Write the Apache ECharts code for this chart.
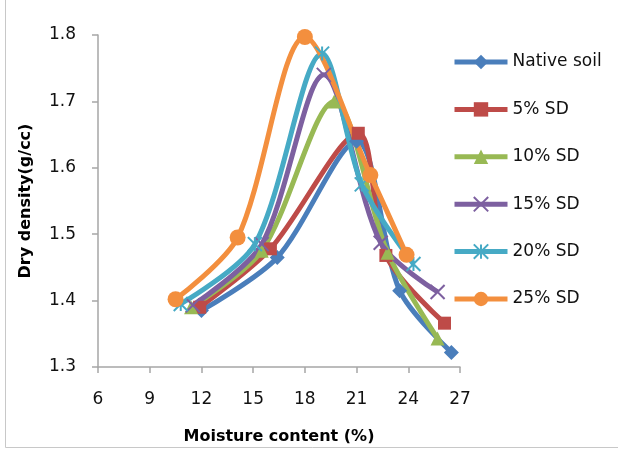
<!DOCTYPE html>
<html>
<head>
<meta charset="utf-8">
<script src="https://cdn.jsdelivr.net/npm/echarts@6/dist/echarts.min.js"></script>
<style>html,body{margin:0;padding:0;background:#fff;}#c{width:618px;height:450px;}</style>
</head>
<body>
<div id="c"></div>
<script>
var seriesNames = ['Native soil', '5% SD', '10% SD', '15% SD', '20% SD', '25% SD'];
var nativeSoil = [[12.0, 1.385], [16.4, 1.465], [21.0, 1.640], [23.5, 1.415], [26.5, 1.322]];
var sd5 = [[11.9, 1.390], [16.0, 1.478], [21.1, 1.652], [22.7, 1.468], [26.1, 1.366]];
var sd10 = [[11.4, 1.390], [15.5, 1.475], [19.7, 1.700], [22.8, 1.472], [25.7, 1.343]];
var sd15 = [[11.5, 1.393], [15.5, 1.485], [19.1, 1.740], [22.4, 1.487], [25.7, 1.413]];
var sd20 = [[10.8, 1.395], [15.1, 1.485], [19.0, 1.772], [21.3, 1.575], [24.3, 1.455]];
var sd25 = [[10.5, 1.402], [14.1, 1.495], [18.0, 1.797], [21.8, 1.589], [23.9, 1.469]];
var xTicks = [6, 9, 12, 15, 18, 21, 24, 27];
var yTicks = [1.3, 1.4, 1.5, 1.6, 1.7, 1.8];

var allData = [nativeSoil, sd5, sd10, sd15, sd20, sd25];
var colors = ['#4A7EBB', '#BE4B48', '#98B954', '#7D60A0', '#46AAC5', '#F38F3E'];
var symbols = [
  'diamond',
  'rect',
  'triangle',
  'path://M0,0L10,10M10,0L0,10',
  'path://M5,0L5,10M0,0L10,10M10,0L0,10',
  'circle'
];
var sizes = [15, 13, 14, 14, 14, 16];

var chart = echarts.init(document.getElementById('c'));
var series = allData.map(function (d, i) {
  var isPath = symbols[i].indexOf('path') === 0;
  return {
    name: seriesNames[i],
    type: 'line',
    data: d,
    smooth: 0.3,
    symbol: symbols[i],
    symbolSize: sizes[i],
    showAllSymbol: true,
    lineStyle: { color: colors[i], width: 5 },
    itemStyle: {
      color: isPath ? 'none' : colors[i],
      borderColor: colors[i],
      borderWidth: isPath ? 2 : 0
    },
    emphasis: { disabled: true },
    animation: false
  };
});

var font = 'DejaVu Sans, Arial, sans-serif';
chart.setOption({
  animation: false,
  backgroundColor: '#fff',
  textStyle: { fontFamily: font },
  grid: { left: 98, top: 35, right: 158, bottom: 83, containLabel: false },
  xAxis: {
    type: 'value',
    min: xTicks[0],
    max: xTicks[xTicks.length - 1],
    interval: 3,
    name: 'Moisture content (%)',
    nameLocation: 'middle',
    nameGap: 62,
    nameTextStyle: { fontSize: 16, fontWeight: 'bold', color: '#000', fontFamily: font },
    axisLine: { lineStyle: { color: '#A6A6A6', width: 1.5 } },
    axisTick: { show: true, inside: false, length: 6, lineStyle: { color: '#A6A6A6', width: 1.5 } },
    axisLabel: { fontSize: 17, color: '#111', margin: 24, fontFamily: font },
    splitLine: { show: false }
  },
  yAxis: {
    type: 'value',
    min: yTicks[0],
    max: yTicks[yTicks.length - 1],
    interval: 0.1,
    name: 'Dry density(g/cc)',
    nameLocation: 'middle',
    nameGap: 64,
    nameRotate: 90,
    nameTextStyle: { fontSize: 16, fontWeight: 'bold', color: '#000', fontFamily: font },
    axisLine: { show: true, lineStyle: { color: '#A6A6A6', width: 1.5 } },
    axisTick: { show: true, inside: false, length: 6, lineStyle: { color: '#A6A6A6', width: 1.5 } },
    axisLabel: { fontSize: 17, color: '#111', margin: 22, fontFamily: font, formatter: function (v) { return v.toFixed(1); } },
    splitLine: { show: false }
  },
  legend: {
    orient: 'vertical',
    left: 447,
    top: 47,
    itemWidth: 53,
    itemHeight: 18,
    itemGap: 27.4,
    lineStyle: { width: 5 },
    textStyle: { fontSize: 17, color: '#111', lineHeight: 20, fontFamily: font },
    data: seriesNames
  },
  graphic: [{
    type: 'rect',
    shape: { x: 5.5, y: -5, width: 640, height: 452.5 },
    style: { fill: 'none', stroke: '#C8C8C8', lineWidth: 1 },
    silent: true
  }],
  series: series
});
</script>
</body>
</html>
